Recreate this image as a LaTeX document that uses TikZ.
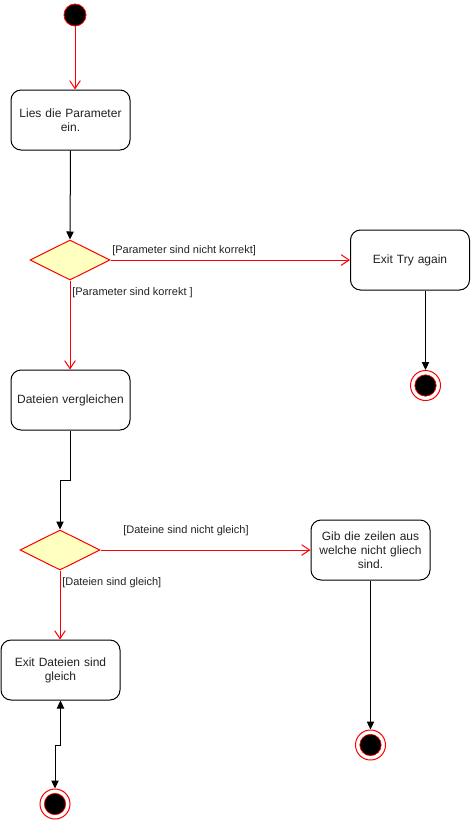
\documentclass[tikz,border=0pt]{standalone}
\usepackage{fontspec}
\setmainfont{Liberation Sans}
\usetikzlibrary{arrows.meta,shapes.geometric}
\definecolor{dyel}{HTML}{FFFFC0}
\definecolor{txt}{HTML}{222222}
\tikzset{
  act/.style={draw=black, line width=0.75pt, rounded corners=7.5pt, minimum width=89.25pt, minimum height=45pt, inner sep=0pt, align=center, font=\fontsize{9}{10.5}\selectfont, text=txt, fill=white, text width=85pt},
  dec/.style={diamond, draw=red, fill=dyel, line width=0.75pt, minimum width=60pt, minimum height=30pt, inner sep=0pt, aspect=2},
  startnode/.style={circle, fill=black, draw=red, line width=0.6pt, minimum size=16.5pt, inner sep=0pt},
  endnode/.style={circle, draw=red, line width=0.75pt, minimum size=22.5pt, inner sep=0pt, fill=white,
     path picture={\fill[black] (path picture bounding box.center) circle (8pt); \draw[red, line width=0.5pt] (path picture bounding box.center) circle (8pt);}},
  redarr/.style={draw=red, line width=0.75pt, -{Straight Barb[length=6pt, width=8pt, line width=0.75pt]}},
  blkarr/.style={draw=black, line width=0.75pt, -{Triangle[length=6pt, width=5.5pt]}},
  lbl/.style={font=\fontsize{8.25}{10}\selectfont, text=txt, inner sep=0pt, anchor=west},
}
\begin{document}
\begin{tikzpicture}[x=0.75pt, y=-0.75pt]
\useasboundingbox (0,0) rectangle (471,821);
\node[startnode] (s) at (75,15) {};
\node[act] (a1) at (70.5,120) {Lies die Parameter\\ein.};
\node[dec] (d1) at (70,260) {};
\node[act] (ex1) at (410,260) {Exit Try again};
\node[endnode] (e1) at (425.5,385.5) {};
\node[act] (a2) at (70.5,400) {Dateien vergleichen};
\node[dec] (d2) at (60,550) {};
\node[act] (a3) at (370.5,550) {Gib die zeilen aus\\welche nicht gliech\\sind.};
\node[act] (ex2) at (60.5,670) {Exit Dateien sind\\gleich};
\node[endnode] (e2) at (370.5,745) {};
\node[endnode] (e3) at (55,804) {};

\draw[redarr] (s) -- (a1.north -| s);
\draw[blkarr] (a1.south) -- (d1.north);
\draw[redarr] (d1.east) -- (ex1.west);
\node[lbl] (l1) at (112,251) {[Parameter sind nicht korrekt]};
\draw[redarr] (d1.south) -- (a2.north -| d1);
\node[lbl] (l2) at (72,293) {[Parameter sind korrekt ]};
\draw[blkarr] (ex1.south -| e1) -- (e1.north);
\coordinate (k1) at (70.5,480);
\coordinate (k2) at (60,480);
\draw[blkarr] (a2.south) -- (k1) -- (k2) -- (d2.north);
\draw[redarr] (d2.east) -- (a3.west);
\node[lbl] (l3) at (123,531) {[Dateine sind nicht gleich]};
\draw[redarr] (d2.south) -- (ex2.north -| d2);
\node[lbl] (l4) at (62,583) {[Dateien sind gleich]};
\draw[blkarr] (a3.south) -- (e2.north);
\coordinate (k3) at (60.5,745);
\coordinate (k4) at (55,745);
\draw[draw=black, line width=0.75pt, {Triangle[length=6pt, width=5.5pt]}-{Triangle[length=6pt, width=5.5pt]}] (ex2.south) -- (k3) -- (k4) -- (e3.north);
\end{tikzpicture}
\end{document}
